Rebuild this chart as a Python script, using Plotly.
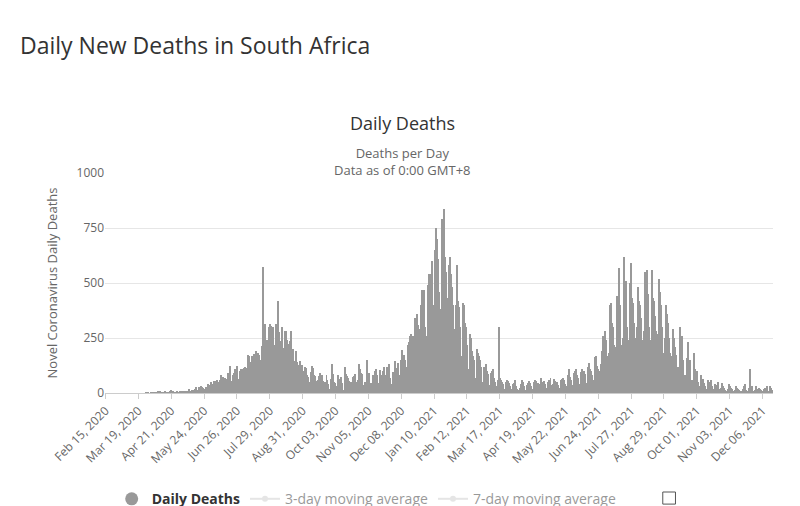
import datetime as dt

import plotly.graph_objects as go

START = dt.date(2020, 2, 15)

# daily deaths
feb20 = [0] * 15
mar20 = [0] * 26 + [1, 0, 2, 0, 0]
apr20 = [1, 0, 2, 4, 2, 2, 0, 5, 1, 7, 2, 3, 2, 1, 5, 2, 2, 0, 2, 8, 13, 7, 6, 0, 2, 3, 6, 0, 3, 7]
may20 = [3, 5, 4, 7, 10, 7, 8, 9, 17, 9, 8, 12, 13, 8, 17, 27, 12, 14, 27, 17, 30, 27, 24, 12, 17, 28, 28, 40, 24, 38, 52]
jun20 = [27, 42, 56, 36, 55, 60, 29, 48, 61, 82, 63, 71, 57, 68, 63, 53, 93, 90, 121, 54, 50, 82, 93, 111, 79, 122, 48, 63, 98, 111]
jul20 = [95, 108, 112, 118, 113, 89, 171, 170, 113, 140, 168, 90, 176, 130, 192, 140, 184, 172, 152, 122,
         214, 572, 280, 315, 158, 240, 150, 298, 315, 306, 247]
aug20 = [300, 129, 216, 315, 190, 418, 276, 238, 150, 298, 130, 205, 280, 280, 240, 102, 221, 237, 283, 160,
         200, 145, 106, 190, 140, 129, 125, 144, 118, 127, 82]
sep20 = [101, 119, 114, 84, 72, 45, 52, 95, 122, 114, 82, 76, 53, 39, 58, 78, 90, 64, 82, 55,
         31, 48, 46, 80, 60, 43, 13, 17, 65, 134]
oct20 = [88, 49, 44, 18, 30, 80, 62, 50, 72, 44, 10, 12, 119, 87, 77, 68, 56, 30, 50, 48,
         71, 78, 87, 52, 40, 60, 134, 111, 91, 85, 38]
nov20 = [29, 50, 35, 150, 72, 90, 35, 47, 16, 84, 73, 99, 111, 82, 46, 30, 105, 68, 82, 98,
         119, 80, 52, 116, 118, 130, 70, 42, 26, 95]
dec20 = [95, 147, 114, 110, 136, 82, 60, 150, 195, 169, 173, 150, 114, 118, 220, 233, 260, 270, 200, 260,
         230, 340, 320, 360, 310, 200, 290, 400, 470, 420, 470]
jan21 = [300, 230, 260, 490, 540, 540, 500, 600, 400, 280, 650, 750, 700, 610, 460, 320, 380, 790, 760, 835,
         620, 550, 370, 430, 580, 620, 540, 480, 400, 220, 290]
feb21 = [400, 580, 420, 390, 300, 170, 150, 410, 400, 320, 300, 220, 90, 110, 270, 250, 190, 170, 150, 70,
         60, 200, 180, 170, 150, 120, 50, 40]
mar21 = [120, 90, 130, 100, 85, 35, 30, 90, 100, 110, 70, 50, 30, 20, 60, 300, 70, 60, 50, 40,
         20, 20, 50, 60, 55, 45, 30, 20, 15, 40, 45]
apr21 = [60, 30, 20, 15, 10, 25, 40, 60, 50, 30, 10, 15, 35, 45, 55, 45, 30, 20, 15, 50,
         60, 55, 30, 45, 20, 40, 70, 50, 40, 55]
may21 = [40, 20, 25, 50, 60, 50, 70, 35, 20, 40, 65, 55, 45, 50, 35, 15, 25, 60, 65, 70,
         60, 40, 25, 30, 80, 110, 75, 60, 35, 30, 90]
jun21 = [100, 110, 80, 70, 40, 40, 95, 110, 90, 100, 85, 40, 45, 120, 135, 110, 100, 80, 55, 60,
         165, 170, 125, 110, 100, 70, 130, 190, 260, 200]
jul21 = [280, 240, 170, 150, 180, 400, 410, 320, 300, 220, 190, 210, 440, 430, 570, 400, 220, 180, 250, 620,
         420, 510, 300, 240, 210, 500, 590, 430, 410, 320, 250]
aug21 = [250, 300, 480, 420, 400, 340, 240, 200, 280, 550, 460, 560, 450, 300, 200, 240, 560, 430, 420, 350,
         280, 240, 270, 520, 460, 400, 300, 180, 160, 250, 400]
sep21 = [360, 320, 250, 180, 150, 170, 290, 250, 210, 175, 120, 100, 120, 300, 220, 260, 150, 80, 80, 70,
         160, 230, 120, 150, 60, 40, 60, 180, 110, 80]
oct21 = [100, 50, 30, 25, 80, 60, 65, 45, 30, 20, 10, 60, 50, 40, 60, 30, 10, 20, 40, 30,
         35, 50, 20, 10, 25, 45, 30, 25, 15, 10, 5]
nov21 = [20, 40, 30, 25, 20, 10, 5, 15, 30, 25, 20, 15, 5, 5, 10, 20, 30, 40, 15, 5,
         5, 25, 110, 20, 30, 10, 5, 15, 30, 20]
dec21 = [20, 25, 20, 15, 10, 5, 20, 25, 20, 30, 10, 5, 30, 25, 20, 15]

deaths = (feb20 + mar20 + apr20 + may20 + jun20 + jul20 + aug20 + sep20 + oct20 + nov20 + dec20
          + jan21 + feb21 + mar21 + apr21 + may21 + jun21 + jul21 + aug21 + sep21 + oct21 + nov21 + dec21)
dates = [(START + dt.timedelta(days=i)).strftime("%b %d, %Y") for i in range(len(deaths))]
tick_vals = dates[::33]

fig = go.Figure()
fig.add_trace(go.Bar(x=dates, y=deaths, name="Daily Deaths", marker_color="#999999",
                     marker_line_width=0, showlegend=False))
fig.add_trace(go.Scatter(x=[None], y=[None], mode="markers", name="<b>Daily Deaths</b>",
                         marker=dict(color="#999999", size=13)))
for label in ["3-day moving average", "7-day moving average"]:
    fig.add_trace(go.Scatter(x=[None], y=[None], mode="lines+markers", name=label,
                             visible="legendonly", line=dict(color="#cccccc"),
                             marker=dict(color="#cccccc", size=6)))

# empty checkboxes after each moving-average legend item
boxes = [dict(type="rect", xref="paper", yref="paper", x0=x0, x1=x0 + 0.019, y0=-0.505, y1=-0.45,
              line=dict(color="#555555", width=1), fillcolor="white")
         for x0 in (0.508, 0.835)]

fig.update_layout(
    width=800, height=506,
    paper_bgcolor="white", plot_bgcolor="white",
    font=dict(family="Open Sans, Arial, sans-serif", color="#333333"),
    margin=dict(l=97, r=35, t=165, b=121, autoexpand=False),
    bargap=0,
    showlegend=True,
    legend=dict(orientation="h", x=0.01, y=-0.41, xanchor="left", yanchor="top",
                font=dict(size=14, color="#333333"), itemwidth=30),
    xaxis=dict(type="category", tickmode="array", tickvals=tick_vals, tickangle=-45,
               tickfont=dict(size=12, color="#666666"), showgrid=False, automargin=False,
               showline=True, linecolor="#cccccc", ticks="outside", tickcolor="#cccccc"),
    yaxis=dict(range=[0, 1000], tickvals=[0, 250, 500, 750, 1000], automargin=False,
               tickfont=dict(size=12, color="#666666"), gridcolor="#e6e6e6",
               title=dict(text="Novel Coronavirus Daily Deaths", font=dict(size=13, color="#666666"))),
    shapes=boxes,
    annotations=[
        dict(text="Daily New Deaths in South Africa", xref="paper", yref="paper",
             x=-0.13, y=1.58, xanchor="left", yanchor="middle", showarrow=False,
             font=dict(size=23, color="#333333")),
        dict(text="Daily Deaths", xref="paper", yref="paper", x=0.445, y=1.29,
             showarrow=False, font=dict(size=18, color="#333333")),
        dict(text="Deaths per Day<br>Data as of 0:00 GMT+8", xref="paper", yref="paper",
             x=0.445, y=1.14, showarrow=False, font=dict(size=13, color="#666666")),
    ],
)

fig.write_html("out.html")
